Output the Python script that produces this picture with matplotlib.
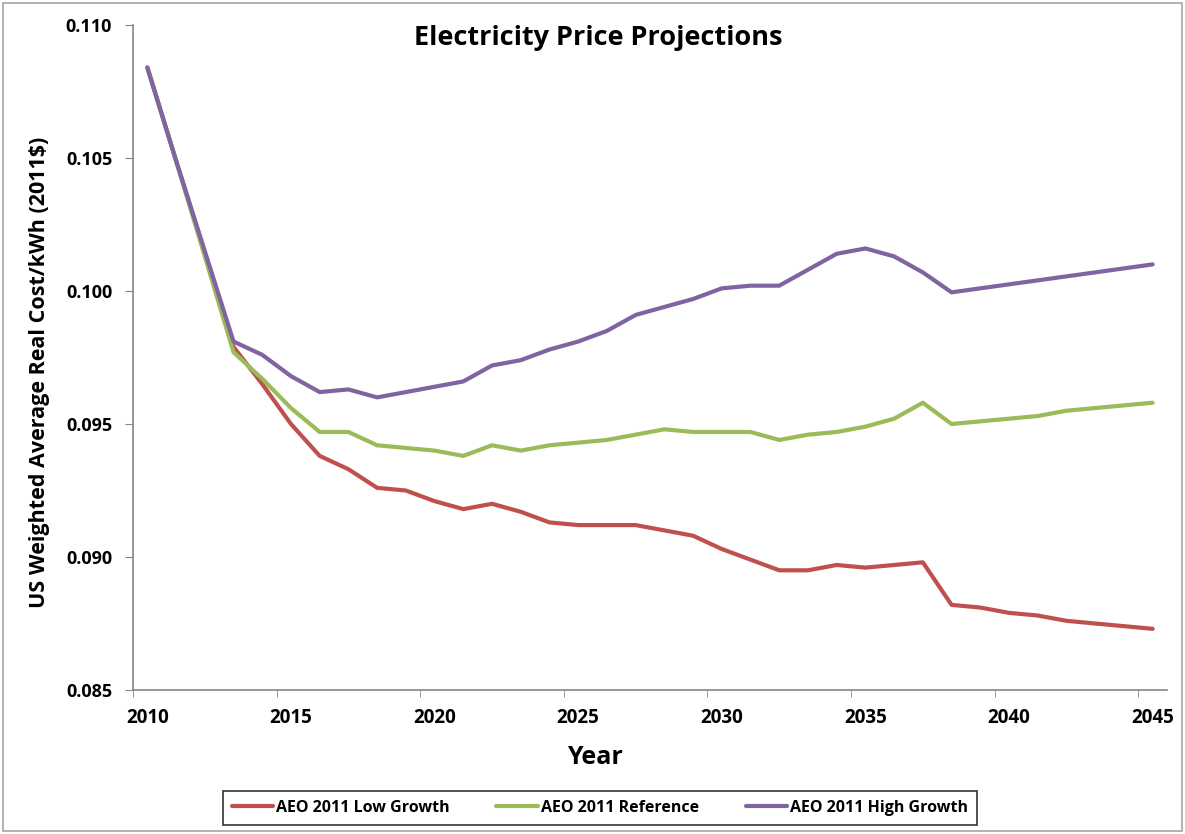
import numpy as np
import matplotlib.pyplot as plt
from matplotlib.patches import Rectangle

plt.rcParams['font.family'] = ['Open Sans', 'DejaVu Sans']
plt.rcParams['font.weight'] = 'bold'

years = np.arange(2010, 2046)

low_growth = [0.1084, 0.1049, 0.1014, 0.0979, 0.0965, 0.0950, 0.0938, 0.0933,
              0.0926, 0.0925, 0.0921, 0.0918, 0.0920, 0.0917, 0.0913, 0.0912,
              0.0912, 0.0912, 0.0910, 0.0908, 0.0903, 0.0899, 0.0895, 0.0895,
              0.0897, 0.0896, 0.0897, 0.0898, 0.0882, 0.0881, 0.0879, 0.0878,
              0.0876, 0.0875, 0.0874, 0.0873]
reference = [0.1084, 0.1049, 0.1013, 0.0977, 0.0967, 0.0956, 0.0947, 0.0947,
             0.0942, 0.0941, 0.0940, 0.0938, 0.0942, 0.0940, 0.0942, 0.0943,
             0.0944, 0.0946, 0.0948, 0.0947, 0.0947, 0.0947, 0.0944, 0.0946,
             0.0947, 0.0949, 0.0952, 0.0958, 0.0950, 0.0951, 0.0952, 0.0953,
             0.0955, 0.0956, 0.0957, 0.0958]
high_growth = [0.1084, 0.1049, 0.1015, 0.0981, 0.0976, 0.0968, 0.0962, 0.0963,
               0.0960, 0.0962, 0.0964, 0.0966, 0.0972, 0.0974, 0.0978, 0.0981,
               0.0985, 0.0991, 0.0994, 0.0997, 0.1001, 0.1002, 0.1002, 0.1008,
               0.1014, 0.1016, 0.1013, 0.1007, 0.09995, 0.1001, 0.10025, 0.1004,
               0.10055, 0.1007, 0.10085, 0.1010]

series = [
    ('AEO 2011 Low Growth', low_growth, '#C0504D'),
    ('AEO 2011 Reference', reference, '#9BBB59'),
    ('AEO 2011 High Growth', high_growth, '#8064A2'),
]

fig = plt.figure(figsize=(11.85, 8.34), dpi=100)
ax = fig.add_axes([133 / 1185, 1 - 690 / 834, (1167 - 133) / 1185, (690 - 25) / 834])

for name, vals, color in series:
    ax.plot(years, vals, color=color, lw=3.0, label=name,
            solid_joinstyle='round', solid_capstyle='round')

ax.set_xlim(2009.5, 2045.5)
ax.set_ylim(0.085, 0.110)

# labels sit on the category, tick marks between categories
ax.set_xticks(np.arange(2010, 2046, 5))
ax.set_xticklabels([str(y) for y in range(2010, 2046, 5)])
ax.set_xticks(np.arange(2009.5, 2046, 5), minor=True)
ax.tick_params(axis='x', which='major', length=0, pad=13, labelsize=13.5)
ax.tick_params(axis='x', which='minor', length=5, color='#868686', direction='out')

yt = np.arange(0.085, 0.1101, 0.005)
ax.set_yticks(yt)
ax.set_yticklabels(['%.3f' % v for v in yt])
ax.tick_params(axis='y', length=6, color='#868686', direction='out',
               labelsize=13, pad=9)

for s in ('top', 'right'):
    ax.spines[s].set_visible(False)
for s in ('left', 'bottom'):
    ax.spines[s].set_color('#868686')
    ax.spines[s].set_linewidth(1.2)

ax.set_ylabel('US Weighted Average Real Cost/kWh (2011$)', fontsize=15.5,
              fontweight='bold')
ax.yaxis.set_label_coords(-0.080, 0.478)

fig.text(0.505, 1 - 38 / 834, 'Electricity Price Projections', ha='center',
         va='center', fontsize=19.5, fontweight='bold')
fig.text(0.502, 1 - 757 / 834, 'Year', ha='center', va='center',
         fontsize=18, fontweight='bold')

leg = fig.legend(loc='center', bbox_to_anchor=(600 / 1185, 1 - 808 / 834),
                 ncol=3, frameon=True, fancybox=False, fontsize=11.5,
                 handlelength=2.6, handletextpad=0.2, columnspacing=2.9,
                 borderpad=0.55)
leg.get_frame().set_edgecolor('black')
leg.get_frame().set_linewidth(1.2)

fig.patches.append(Rectangle((3 / 1185, 3 / 834), 1179 / 1185, 828 / 834,
                             transform=fig.transFigure, fill=False,
                             edgecolor='#A6A6A6', lw=1.2))

fig.savefig('out.png', dpi=100)
